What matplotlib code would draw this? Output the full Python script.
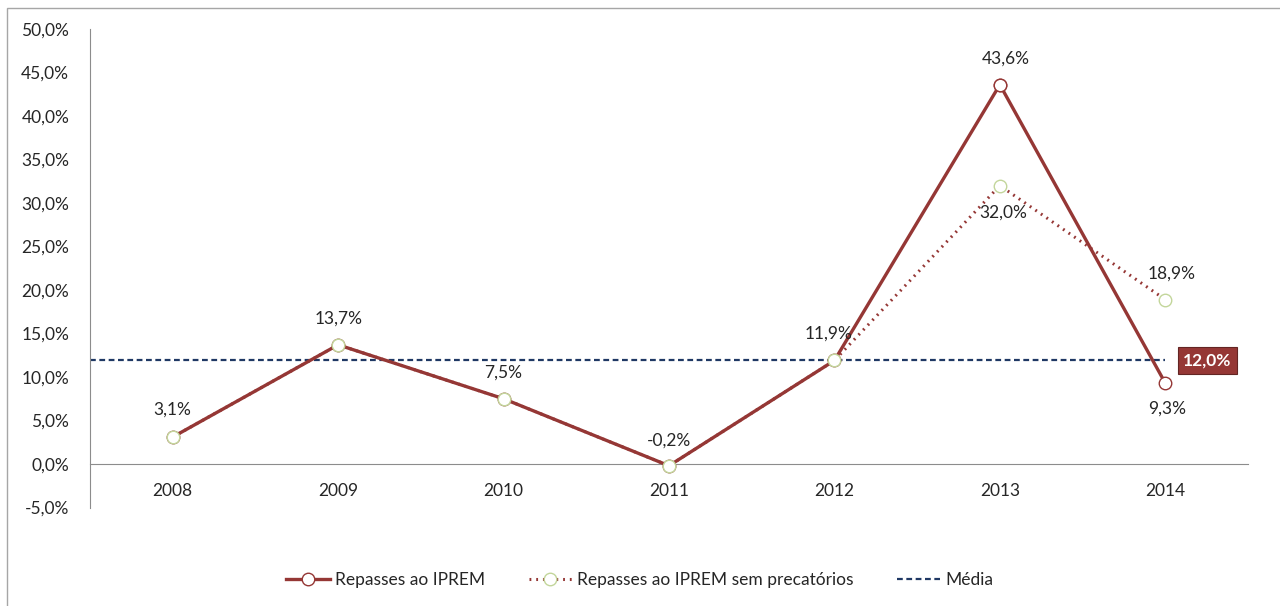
import numpy as np
import matplotlib.pyplot as plt
from matplotlib.patches import Rectangle
from matplotlib.lines import Line2D

plt.rcParams['font.family'] = ['Lato', 'DejaVu Sans']

anos = ['2008', '2009', '2010', '2011', '2012', '2013', '2014']
repasses = [3.1, 13.7, 7.5, -0.2, 11.9, 43.6, 9.3]
repasses_sem_prec = [3.1, 13.7, 7.5, -0.2, 11.9, 32.0, 18.9]
media = 12.0

vermelho = '#953735'
verde = '#c3d69b'
azul = '#1f3864'
texto = '#262626'
fs = 12.5
tracejado = (0, (2.6, 1.6))

def pct(v):
    return ('%.1f%%' % v).replace('.', ',')

fig = plt.figure(figsize=(12.8, 6.06), dpi=100)
fig.patches.append(Rectangle((7 / 1280, -0.1), 1.2, 1 - 8 / 606 + 0.1,
                             transform=fig.transFigure, fill=False,
                             edgecolor='#a6a6a6', linewidth=1))

ax = fig.add_axes([90 / 1280, 1 - 507.5 / 606, (1248 - 90) / 1280, (507.5 - 29) / 606])
x = np.arange(len(anos))

ax.spines['bottom'].set_position(('data', 0))

ax.plot([x[0] - 0.5, x[-1]], [media, media], color=azul, linestyle=tracejado,
        linewidth=1.6, zorder=2)
ax.plot(x, repasses, color=vermelho, linewidth=2.4, marker='o', markersize=9,
        markerfacecolor='white', markeredgecolor=vermelho, markeredgewidth=1, zorder=3)
ax.plot(x, repasses_sem_prec, color=vermelho, linewidth=2.2, linestyle=(0, (0.6, 1.6)),
        marker='o', markersize=9, markerfacecolor='white', markeredgecolor=verde,
        markeredgewidth=1, zorder=4)
# the 2013 marker of the first series sits alone, redraw it on top
ax.plot(x[5], repasses[5], 'o', markersize=9, markerfacecolor='white',
        markeredgecolor=vermelho, markeredgewidth=1, zorder=5)

lbl = dict(fontsize=fs, color=texto, ha='center', va='center', zorder=6)
px = 72 / 100
desloc = [(0, 27), (0, 26), (0, 26), (0, 25), (-6, 27), (6, 26), (2, -26)]
for i, v in enumerate(repasses):
    dx, dy = desloc[i]
    ax.annotate(pct(v), (x[i], v), xytext=(dx * px, dy * px), textcoords='offset points', **lbl)
ax.annotate(pct(repasses_sem_prec[5]), (x[5], repasses_sem_prec[5]), xytext=(3 * px, -27 * px),
            textcoords='offset points', **lbl)
ax.annotate(pct(repasses_sem_prec[6]), (x[6], repasses_sem_prec[6]), xytext=(6 * px, 26 * px),
            textcoords='offset points', **lbl)
ax.annotate(pct(media), (x[6], media), xytext=(42 * px, -1 * px), textcoords='offset points',
            fontsize=fs, fontweight='bold', color='white', ha='center', va='center',
            bbox=dict(boxstyle='square,pad=0.3', facecolor=vermelho, edgecolor='#632523',
                      linewidth=0.8), zorder=7)

ax.set_xlim(-0.5, len(anos) - 0.5)
ax.set_ylim(-5, 50)
ax.set_yticks(np.arange(-5, 51, 5))
ax.set_yticklabels([pct(t) for t in np.arange(-5, 51, 5)], fontsize=fs, color=texto)
ax.set_xticks(x)
ax.set_xticklabels(anos, fontsize=fs, color=texto)
ax.tick_params(axis='y', length=0, pad=15)
ax.tick_params(axis='x', length=0, pad=14)
for s in ['top', 'right']:
    ax.spines[s].set_visible(False)
ax.spines['bottom'].set_color('#8c8c8c')
ax.spines['left'].set_color('#8c8c8c')
ax.patch.set_alpha(0)

handles = [
    Line2D([], [], color=vermelho, linewidth=2.4, marker='o', markersize=9,
           markerfacecolor='white', markeredgecolor=vermelho, markeredgewidth=1),
    Line2D([], [], color=vermelho, linewidth=2.2, linestyle=(0, (0.6, 1.6)), marker='o',
           markersize=9, markerfacecolor='white', markeredgecolor=verde, markeredgewidth=1),
    Line2D([], [], color=azul, linewidth=1.6, linestyle=tracejado),
]
fig.legend(handles, ['Repasses ao IPREM', 'Repasses ao IPREM sem precatórios', 'Média'],
           loc='center', bbox_to_anchor=(0.5, 1 - 580 / 606), ncol=3, frameon=False,
           fontsize=fs, handlelength=2.5, handletextpad=0.3, columnspacing=2.5,
           labelcolor=texto)

fig.savefig('out.png', dpi=100)
